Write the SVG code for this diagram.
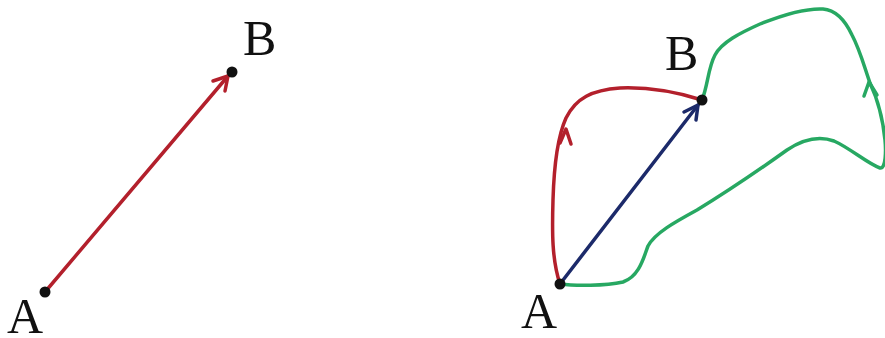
<svg xmlns="http://www.w3.org/2000/svg" width="885" height="338" viewBox="0 0 885 338">
<defs>
<style>
.lbl{font-family:"Liberation Serif","Times New Roman",serif;font-size:50px;fill:#111}
.dot{fill:#111}
.red{stroke:#b3202c;stroke-width:3.5;fill:none;stroke-linecap:round;stroke-linejoin:round}
.blue{stroke:#1c2a6a;stroke-width:3.5;fill:none;stroke-linecap:round;stroke-linejoin:round}
.green{stroke:#27a862;stroke-width:3.5;fill:none;stroke-linecap:round;stroke-linejoin:round}
</style>
</defs>
<rect width="885" height="338" fill="#ffffff"/>
<g id="connectors">
<path class="red" d="M45,292 L228,76"/>
<path class="red" d="M213,81 L228,76 L225,91"/>
<path class="red" d="M560,284 C552,260 552,233 553,200 C554,165 557,138 566,118 C576,98 592,90 620,88 C645,87 670,90 702,100"/>
<path class="red" d="M560,143 L566,129 L571,144"/>
<path class="blue" d="M560,284 L698,105"/>
<path class="blue" d="M684,112 L698,105 L696,120"/>
<path class="green" d="M560,284 C575,286 605,286 623,282 C640,276 644,256 648,246 C655,233 675,222 697,210 C720,196 745,180 787,150 C805,138 820,136 834,141 C850,148 868,164 880,168 C886,169 886,150 885,140 C883,120 878,100 870,83 C864,66 860,50 852,35 C845,20 835,10 823,9 C805,8 785,14 760,24 C740,33 722,42 715,55 C708,68 708,85 702,100"/>
<path class="green" d="M864,96 L869,82 L877,95"/>
</g>
<g id="A1"><circle class="dot" cx="45" cy="292" r="5.5"/><text class="lbl" x="7" y="333">A</text></g>
<g id="B1"><circle class="dot" cx="232" cy="72" r="5.5"/><text class="lbl" x="243" y="55">B</text></g>
<g id="A2"><circle class="dot" cx="560" cy="284" r="5.5"/><text class="lbl" x="521" y="328">A</text></g>
<g id="B2"><circle class="dot" cx="702" cy="100" r="5.5"/><text class="lbl" x="665" y="70">B</text></g>
</svg>
